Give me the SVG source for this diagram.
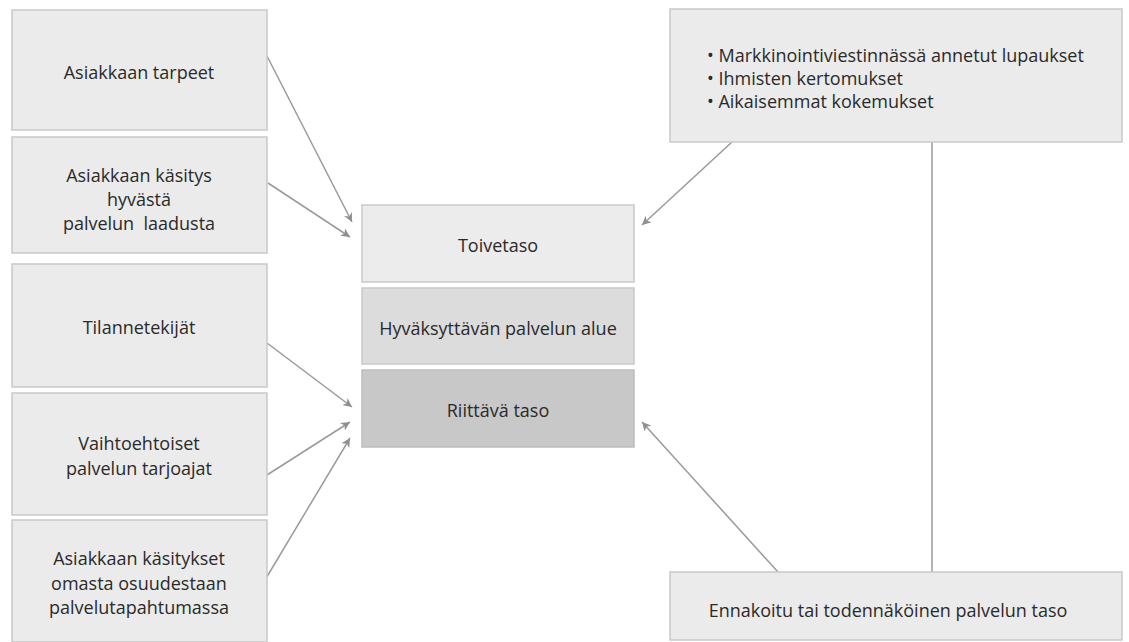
<svg xmlns="http://www.w3.org/2000/svg" width="1129" height="642" viewBox="0 0 1129 642">
<style>
.box{fill:#ebebeb;stroke:#c9c9c9;stroke-width:1.5}
.t{font-family:"Open Sans","Liberation Sans",sans-serif;font-size:18px;fill:#2a2a2a;text-anchor:middle;dominant-baseline:central}
.tl{text-anchor:start}
.c{stroke:#9a9a9a;stroke-width:1.5;fill:none}
</style>
<defs>
<marker id="ah" viewBox="0 0 10 10" refX="10" refY="5" markerWidth="9" markerHeight="9" markerUnits="userSpaceOnUse" orient="auto">
<path d="M0,0 L10,5 L0,10 L3,5 Z" fill="#8f8f8f"/>
</marker>
</defs>
<rect width="1129" height="642" fill="#ffffff"/>
<g id="connectors">
<line class="c" x1="267" y1="56" x2="352" y2="222" marker-end="url(#ah)"/>
<line class="c" x1="268" y1="183" x2="350" y2="237" marker-end="url(#ah)"/>
<line class="c" x1="267" y1="343" x2="352" y2="407" marker-end="url(#ah)"/>
<line class="c" x1="267" y1="475" x2="350" y2="422" marker-end="url(#ah)"/>
<line class="c" x1="265" y1="580" x2="350" y2="438" marker-end="url(#ah)"/>
<line class="c" x1="732" y1="142" x2="642" y2="225" marker-end="url(#ah)"/>
<line class="c" x1="778" y1="572" x2="642" y2="422" marker-end="url(#ah)"/>
<line class="c" x1="932" y1="142" x2="932" y2="572"/>
</g>
<g id="n1"><rect class="box" x="12" y="10" width="255" height="120"/><text class="t" x="139" y="72">Asiakkaan tarpeet</text></g>
<g id="n2"><rect class="box" x="12" y="137" width="255" height="116"/><text class="t" x="139" y="175">Asiakkaan käsitys</text><text class="t" x="139" y="199">hyvästä</text><text class="t" x="139" y="223" xml:space="preserve">palvelun  laadusta</text></g>
<g id="n3"><rect class="box" x="12" y="264" width="255" height="123"/><text class="t" x="139" y="327">Tilannetekijät</text></g>
<g id="n4"><rect class="box" x="12" y="393" width="255" height="122"/><text class="t" x="139" y="443">Vaihtoehtoiset</text><text class="t" x="139" y="468">palvelun tarjoajat</text></g>
<g id="n5"><rect class="box" x="12" y="520" width="255" height="122"/><text class="t" x="139" y="558">Asiakkaan käsitykset</text><text class="t" x="139" y="583">omasta osuudestaan</text><text class="t" x="139" y="607">palvelutapahtumassa</text></g>
<g id="toivetaso"><rect class="box" x="362" y="205" width="272" height="77" style="fill:#ececec"/><text class="t" x="498" y="245">Toivetaso</text></g>
<g id="hyvaksyttava"><rect class="box" x="362" y="288" width="272" height="76" style="fill:#dcdcdc"/><text class="t" x="498" y="328">Hyväksyttävän palvelun alue</text></g>
<g id="riittava"><rect class="box" x="362" y="370" width="272" height="77" style="fill:#c8c8c8;stroke:#bdbdbd"/><text class="t" x="498" y="410">Riittävä taso</text></g>
<g id="sources"><rect class="box" x="670" y="9" width="452" height="133"/>
<text class="t tl" x="707" y="55">• Markkinointiviestinnässä annetut lupaukset</text>
<text class="t tl" x="707" y="78">• Ihmisten kertomukset</text>
<text class="t tl" x="707" y="101">• Aikaisemmat kokemukset</text></g>
<g id="ennakoitu"><rect class="box" x="670" y="572" width="452" height="68"/><text class="t" x="888" y="610">Ennakoitu tai todennäköinen palvelun taso</text></g>
</svg>
